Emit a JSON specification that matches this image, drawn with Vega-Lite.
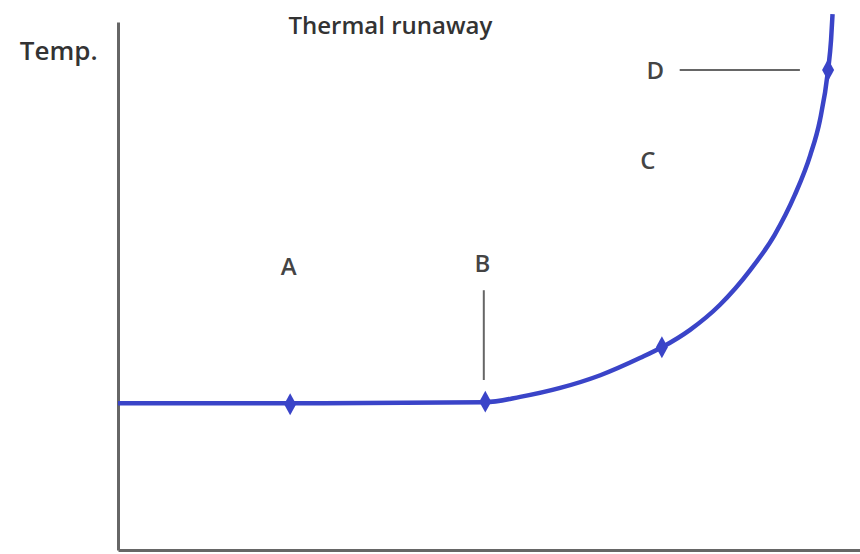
{
  "$schema": "https://vega.github.io/schema/vega-lite/v6.json",
  "width": 742,
  "height": 528,
  "padding": {"left": 118, "top": 22, "right": 0, "bottom": 4},
  "autosize": {"type": "none"},
  "background": "white",
  "config": {"view": {"stroke": null}, "font": "Open Sans"},
  "datasets": {
    "curve": [
      {"t": 0, "temp": 27.8},
      {"t": 23.2, "temp": 27.8},
      {"t": 49.5, "temp": 28.0},
      {"t": 54.2, "temp": 29.0},
      {"t": 59.6, "temp": 30.7},
      {"t": 65.0, "temp": 33.1},
      {"t": 70.4, "temp": 36.4},
      {"t": 73.3, "temp": 38.4},
      {"t": 77.1, "temp": 41.7},
      {"t": 81.1, "temp": 46.4},
      {"t": 85.2, "temp": 53.0},
      {"t": 88.5, "temp": 59.7},
      {"t": 91.2, "temp": 67.2},
      {"t": 93.3, "temp": 74.8},
      {"t": 94.6, "temp": 81.4},
      {"t": 95.7, "temp": 90.9},
      {"t": 96.1, "temp": 96.6},
      {"t": 96.3, "temp": 101.5}
    ],
    "points": [
      {"name": "A", "t": 23.2, "temp": 27.6},
      {"name": "B", "t": 49.5, "temp": 28.1},
      {"name": "C", "t": 73.3, "temp": 38.4},
      {"name": "D", "t": 95.7, "temp": 90.9}
    ],
    "leaders": [
      {"id": "B", "t": 49.3, "temp": 32.2, "t2": 49.3, "temp2": 49.2},
      {"id": "D", "t": 75.7, "temp": 90.9, "t2": 91.9, "temp2": 90.9}
    ],
    "labels": [
      {"text": "A", "t": 23.0, "temp": 53.4},
      {"text": "B", "t": 49.1, "temp": 54.0},
      {"text": "C", "t": 71.4, "temp": 73.5},
      {"text": "D", "t": 72.4, "temp": 90.5}
    ],
    "titles": [
      {"text": "Thermal runaway", "t": 36.7, "temp": 99.0, "size": 24},
      {"text": "Temp.", "t": -8.0, "temp": 94.3, "size": 26}
    ]
  },
  "layer": [
    {
      "data": {"name": "curve"},
      "mark": {"type": "line", "color": "#3a44c8", "strokeWidth": 4.5, "interpolate": "monotone", "clip": false},
      "encoding": {
        "x": {"field": "t", "type": "quantitative", "scale": {"domain": [0, 100]}, "axis": {"labels": false, "ticks": false, "grid": false, "title": null, "domainColor": "#666666", "domainWidth": 3}},
        "y": {"field": "temp", "type": "quantitative", "scale": {"domain": [0, 100]}, "axis": {"labels": false, "ticks": false, "grid": false, "title": null, "domainColor": "#666666", "domainWidth": 3}}
      }
    },
    {
      "data": {"name": "points"},
      "mark": {"type": "point", "shape": "M0,-1L0.55,0L0,1L-0.55,0Z", "filled": true, "color": "#3a44c8", "size": 480, "opacity": 1},
      "encoding": {
        "x": {"field": "t", "type": "quantitative"},
        "y": {"field": "temp", "type": "quantitative"}
      }
    },
    {
      "data": {"name": "leaders"},
      "mark": {"type": "rule", "color": "#666666", "strokeWidth": 2},
      "encoding": {
        "x": {"field": "t", "type": "quantitative"},
        "y": {"field": "temp", "type": "quantitative"},
        "x2": {"field": "t2"},
        "y2": {"field": "temp2"}
      }
    },
    {
      "data": {"name": "labels"},
      "mark": {"type": "text", "color": "#444444", "baseline": "middle", "align": "center", "fontSize": 24, "fontWeight": 600},
      "encoding": {
        "x": {"field": "t", "type": "quantitative"},
        "y": {"field": "temp", "type": "quantitative"},
        "text": {"field": "text"}
      }
    },
    {
      "data": {"name": "titles"},
      "mark": {"type": "text", "color": "#333333", "baseline": "middle", "align": "center", "fontWeight": 600, "clip": false},
      "encoding": {
        "x": {"field": "t", "type": "quantitative"},
        "y": {"field": "temp", "type": "quantitative"},
        "text": {"field": "text"},
        "size": {"field": "size", "type": "quantitative", "scale": null, "legend": null}
      }
    }
  ]
}
